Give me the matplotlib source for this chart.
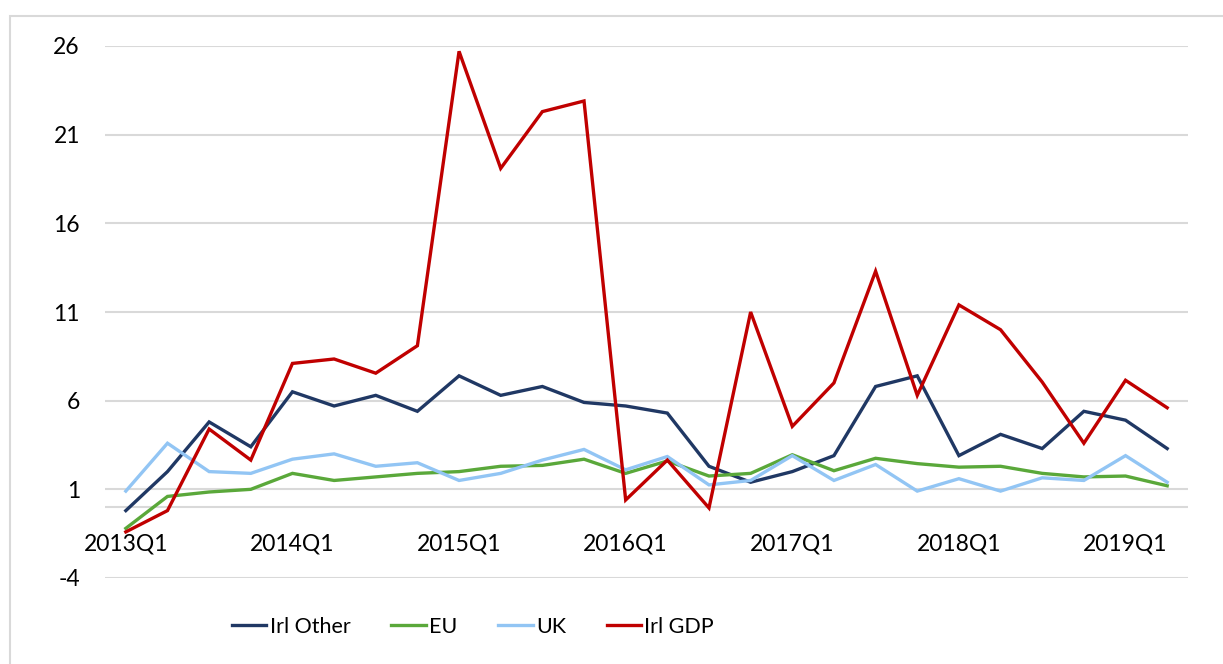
import matplotlib
matplotlib.use("Agg")
import matplotlib.pyplot as plt
import numpy as np

quarters = [f"{y}Q{q}" for y in range(2013, 2020) for q in range(1, 5)][:26]

irl_other = [-0.2, 2.0, 4.8, 3.4, 6.5, 5.7, 6.3, 5.4, 7.4, 6.3, 6.8, 5.9, 5.7, 5.3, 2.3,
             1.4, 2.0, 2.9, 6.8, 7.4, 2.9, 4.1, 3.3, 5.4, 4.9, 3.3]
eu = [-1.2, 0.6, 0.85, 1.0, 1.9, 1.5, 1.7, 1.9, 2.0, 2.3, 2.35, 2.7, 1.9, 2.6, 1.75,
      1.9, 2.95, 2.05, 2.75, 2.45, 2.25, 2.3, 1.9, 1.7, 1.75, 1.2]
uk = [0.9, 3.6, 2.0, 1.9, 2.7, 3.0, 2.3, 2.5, 1.5, 1.9, 2.65, 3.25, 2.1, 2.85, 1.25,
      1.5, 2.9, 1.5, 2.4, 0.9, 1.6, 0.9, 1.65, 1.5, 2.9, 1.4]
irl_gdp = [-1.4, -0.2, 4.4, 2.65, 8.1, 8.35, 7.55, 9.1, 25.7, 19.1, 22.3, 22.9, 0.4, 2.65, -0.05,
           11.0, 4.55, 7.0, 13.3, 6.3, 11.4, 10.0, 7.05, 3.6, 7.15, 5.6]

series = [("Irl Other", irl_other, "#203864"),
          ("EU", eu, "#5aa83a"),
          ("UK", uk, "#92c5f4"),
          ("Irl GDP", irl_gdp, "#c00000")]

plt.rcParams['font.family'] = ['Lato', 'DejaVu Sans']
plt.rcParams['axes.unicode_minus'] = False

fig = plt.figure(figsize=(12.23, 6.64), dpi=100)
ax = fig.add_axes([105 / 1223, 1 - 578 / 664, (1188 - 105) / 1223, (578 - 46) / 664])

# chart area border
fig.patches.append(plt.Rectangle((10 / 1223, -0.1), 1.2, 1 - 16 / 664 + 0.1,
                                 transform=fig.transFigure, fill=False,
                                 edgecolor="#d9d9d9", linewidth=1.5))

x = np.arange(len(quarters))
for name, vals, col in series:
    ax.plot(x, vals, color=col, linewidth=2.4, label=name, solid_joinstyle="miter")

ax.set_xlim(-0.5, len(quarters) - 0.5)
ax.set_ylim(-4, 26)
ax.set_yticks(np.arange(-4, 27, 5))
ax.grid(axis="y", color="#d9d9d9", linewidth=1.5)
ax.set_axisbelow(True)
ax.axhline(0, color="#d9d9d9", linewidth=1.5, zorder=0.5)
for s in ax.spines.values():
    s.set_visible(False)
ax.tick_params(axis="y", length=0, pad=18, labelsize=16.5)
ax.set_xticks([])

# category labels sit below the zero line, Excel style
for i in range(0, len(quarters), 4):
    ax.text(i, -2.1, quarters[i], ha="center", va="center", fontsize=16.5)

fig.legend(loc="center", bbox_to_anchor=(473 / 1223, 1 - 627 / 664), ncol=4,
           frameon=False, fontsize=15.5, handlelength=1.6, handletextpad=0.15,
           columnspacing=1.9)

fig.savefig("out.png", dpi=100)
